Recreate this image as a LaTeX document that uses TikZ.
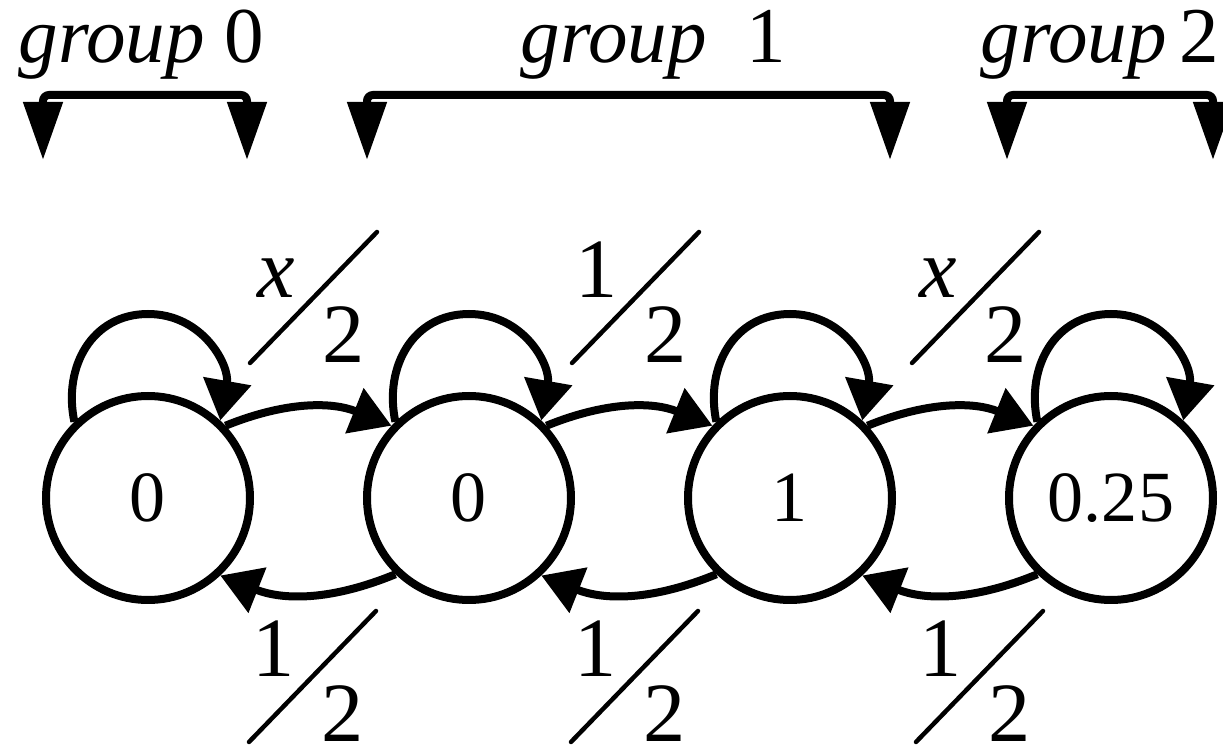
\documentclass[tikz,border=0pt]{standalone}
\usepackage{fontspec}
\setmainfont{Liberation Serif}
\usetikzlibrary{
	arrows.meta,
	positioning,
	calc
}
\tikzset{
	estado/.style={
		draw,
		circle,
		line width=0.8mm,
		minimum size=20.4mm,
		inner sep=0pt,
		font=\fontsize{20.5}{24}\selectfont
	},
	flecha/.style={
		-{Triangle[length=4mm,width=4.7mm]},
		line width=0.8mm
	},
	lazo/.style={
		flecha,
		looseness=1.1
	},
	corchete/.style={
		{Triangle[length=5.8mm,width=3.8mm]}-{Triangle[length=5.8mm,width=3.8mm]},
		line width=0.8mm,
		rounded corners=0.6mm
	},
	grupo/.style={
		anchor=base west,
		inner sep=0pt,
		font=\fontsize{22.5}{26}\selectfont
	},
	peso/.style={
		inner sep=0pt,
		font=\fontsize{24}{28}\selectfont
	},
	barra/.style={
		line width=0.45mm,
		line cap=round
	}
}
% etiqueta de peso: nombre, centro, numerador, denominador
\newcommand{\peso}[4]{
	\coordinate (#1) at #2;
	\draw[barra] ($(#1)+(-0.63,-0.66)$) -- ($(#1)+(0.64,0.65)$);
	\node[peso, anchor=base east] (#1n) at ($(#1)+(-0.17,-0.01)$) {#3};
	\node[peso, anchor=base west] (#1d) at ($(#1)+(0.09,-0.66)$) {#4};
}

\begin{document}
\begin{tikzpicture}[node distance=1.09cm]
	\useasboundingbox (0,0) rectangle (12.23,7.53);
	\node[estado] (s0) at (1.48,2.55) {0};
	\node[estado, right=of s0] (s1) {0};
	\node[estado, right=of s1] (s2) {1};
	\node[estado, right=of s2] (s3) {0.25};
	% lazos
	\draw[lazo] (s0.134) to[out=102,in=180] ($(s0)+(0,1.84)$) to[out=0,in=80] (s0.47);
	\draw[lazo] (s1.134) to[out=102,in=180] ($(s1)+(0,1.84)$) to[out=0,in=80] (s1.47);
	\draw[lazo] (s2.134) to[out=102,in=180] ($(s2)+(0,1.84)$) to[out=0,in=80] (s2.47);
	\draw[lazo] (s3.134) to[out=102,in=180] ($(s3)+(0,1.84)$) to[out=0,in=80] (s3.47);
	% transiciones
	\draw[flecha] (s0.43) to[bend left=22] (s1.137);
	\draw[flecha] (s1.43) to[bend left=22] (s2.137);
	\draw[flecha] (s2.43) to[bend left=22] (s3.137);
	\draw[flecha] (s1.-134) to[bend left=22] (s0.-47);
	\draw[flecha] (s2.-134) to[bend left=22] (s1.-47);
	\draw[flecha] (s3.-134) to[bend left=22] (s2.-47);
	% pesos
	\peso{p01}{(3.13,4.56)}{\textit{x}}{2}
	\peso{p12}{(6.35,4.56)}{1}{2}
	\peso{p23}{(9.75,4.56)}{\textit{x}}{2}
	\peso{p10}{(3.12,0.77)}{1}{2}
	\peso{p21}{(6.34,0.77)}{1}{2}
	\peso{p32}{(9.79,0.77)}{1}{2}
	% grupos
	\node[grupo] (g0) at (0.18,6.90) {\textit{group}~0};
	\node[grupo] (g1) at (5.20,6.90) {\textit{group}\enspace 1};
	\node[grupo] (g2) at (9.80,6.90) {\textit{group}\,2};
	\draw[corchete] (0.43,5.93) -- (0.43,6.58) -- (2.47,6.58) -- (2.47,5.93);
	\draw[corchete] (3.67,5.93) -- (3.67,6.58) -- (8.90,6.58) -- (8.90,5.93);
	\draw[corchete] (10.07,5.93) -- (10.07,6.58) -- (12.13,6.58) -- (12.13,5.93);
\end{tikzpicture}
\end{document}
